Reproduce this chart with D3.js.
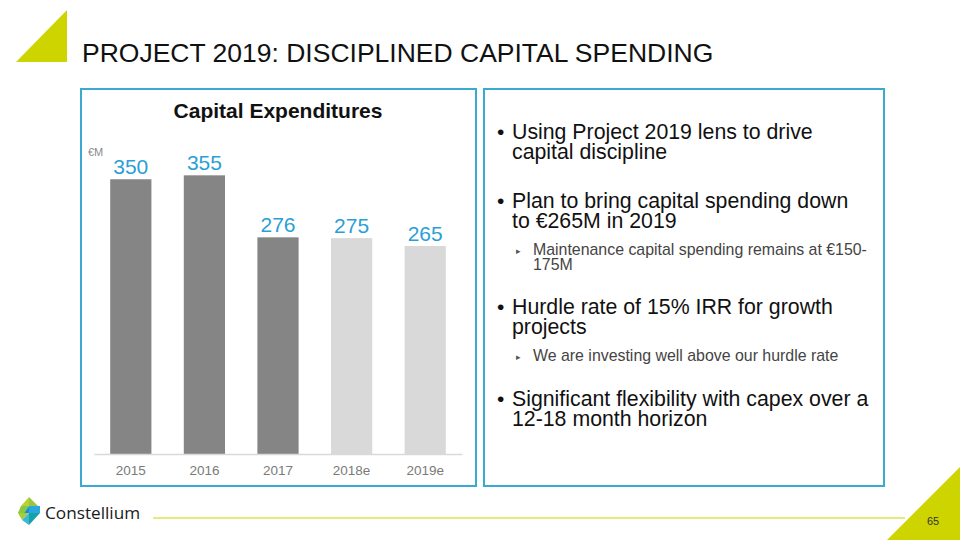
<!DOCTYPE html>
<html>
<head>
<meta charset="utf-8">
<script src="https://cdn.jsdelivr.net/npm/d3@7"></script>
<style>
  html, body { margin: 0; padding: 0; background: #fff; }
  svg { display: block; font-family: "Liberation Sans", Arial, sans-serif; }
</style>
</head>
<body>
<svg id="chart" width="960" height="540"></svg>
<script>
// ---- data ----
const categories = ["2015", "2016", "2017", "2018e", "2019e"];
const capexValues = [350, 355, 276, 275, 265];
const isEstimate = [false, false, false, true, true];
const pageTitle = "PROJECT 2019: DISCIPLINED CAPITAL SPENDING";
const chartTitle = "Capital Expenditures";
const unitLabel = "€M";
const bullets = [
  { lines: ["Using Project 2019 lens to drive", "capital discipline"], subs: [] },
  { lines: ["Plan to bring capital spending down", "to €265M in 2019"], subs: [["Maintenance capital spending remains at €150-", "175M"]] },
  { lines: ["Hurdle rate of 15% IRR for growth", "projects"], subs: [["We are investing well above our hurdle rate"]] },
  { lines: ["Significant flexibility with capex over a", "12-18 month horizon"], subs: [] }
];
const pageNumber = "65";

const svg = d3.select("#chart");
const lime = "#cdd400";
const boxBlue = "#3ca9d2";

// decorative triangles
svg.append("path").attr("d", "M16,62 L67,10 L67,62 Z").attr("fill", lime);
svg.append("path").attr("d", "M887,540 L960,467 L960,540 Z").attr("fill", lime);
svg.append("text").attr("x", 933).attr("y", 525).attr("text-anchor", "middle")
  .attr("font-size", 11).attr("fill", "#333").text(pageNumber);

// page title
svg.append("text").attr("x", 82).attr("y", 62).attr("font-size", 26.5).attr("fill", "#111")
  .text(pageTitle);

// boxes
svg.append("rect").attr("x", 81).attr("y", 89).attr("width", 395).attr("height", 397)
  .attr("fill", "none").attr("stroke", boxBlue).attr("stroke-width", 2);
svg.append("rect").attr("x", 484).attr("y", 89).attr("width", 400).attr("height", 397)
  .attr("fill", "none").attr("stroke", boxBlue).attr("stroke-width", 2);

// chart
const x = d3.scaleBand().domain(categories).range([94, 462]).paddingInner(0.44).paddingOuter(0.22);
const y = d3.scaleLinear().domain([0, 400]).range([454, 140]);

svg.append("text").attr("x", 278).attr("y", 118).attr("text-anchor", "middle")
  .attr("font-size", 21).attr("font-weight", "bold").attr("fill", "#111").text(chartTitle);
svg.append("text").attr("x", 88).attr("y", 156).attr("font-size", 11).attr("fill", "#8a8a8a").text(unitLabel);

const data = categories.map((c, i) => ({ c, v: capexValues[i], e: isEstimate[i] }));

svg.selectAll("rect.bar").data(data).enter().append("rect").attr("class", "bar")
  .attr("x", d => x(d.c)).attr("width", x.bandwidth())
  .attr("y", d => y(d.v)).attr("height", d => y(0) - y(d.v))
  .attr("fill", d => d.e ? "#d9d9d9" : "#858585");

svg.selectAll("text.val").data(data).enter().append("text").attr("class", "val")
  .attr("x", d => x(d.c) + x.bandwidth() / 2).attr("y", d => y(d.v) - 5)
  .attr("text-anchor", "middle").attr("font-size", 21).attr("fill", "#2a9fd6")
  .text(d => d.v);

const xAxis = svg.append("g").attr("transform", "translate(0,454)")
  .call(d3.axisBottom(x).tickSize(0).tickPadding(11));
xAxis.select(".domain").attr("stroke", "#d9d9d9").attr("stroke-width", 1.5);
xAxis.selectAll("text").attr("font-size", 13.5).attr("fill", "#7a7a7a")
  .attr("font-family", "'Liberation Sans', Arial, sans-serif");

// bullet text (one text element per paragraph, tight line spacing)
const tx = 512, bx = 497, sx = 533, sax = 516;
const mainLH = 20, subLH = 14.5;
let yy = 139;
const g = svg.append("g");
bullets.forEach((b, bi) => {
  g.append("text").attr("x", bx).attr("y", yy).attr("font-size", 21).attr("fill", "#111").text("•");
  const t = g.append("text").attr("font-size", 21.3).attr("fill", "#111");
  b.lines.forEach((ln, li) => {
    t.append("tspan").attr("x", tx).attr("y", yy + li * mainLH).text(ln);
  });
  yy += (b.lines.length - 1) * mainLH;
  b.subs.forEach(s => {
    yy += 27;
    g.append("text").attr("x", sax).attr("y", yy - 1).attr("font-size", 9).attr("fill", "#555").text("▸");
    const st = g.append("text").attr("font-size", 15.9).attr("fill", "#444");
    s.forEach((ln, li) => {
      st.append("tspan").attr("x", sx).attr("y", yy + li * subLH).text(ln);
    });
    yy += (s.length - 1) * subLH;
  });
  yy += b.subs.length ? 44.5 : 49;
});

// footer line
svg.append("line").attr("x1", 153).attr("x2", 905).attr("y1", 518).attr("y2", 518)
  .attr("stroke", lime).attr("stroke-width", 1);

// logo
const logo = svg.append("g").attr("transform", "translate(18,497)");
logo.append("path").attr("d", "M11,0 L20,9 L11,9 Z").attr("fill", "#9bc53d");
logo.append("path").attr("d", "M11,0 L11,9 L3,9 Z").attr("fill", "#b5d334");
logo.append("path").attr("d", "M3,9 L11,9 L6,16 L0,16 Z").attr("fill", "#8dc63f");
logo.append("path").attr("d", "M11,9 L22,9 L22,16 L11,16 Z").attr("fill", "#29a8e0");
logo.append("path").attr("d", "M11,9 L11,16 L6,16 Z").attr("fill", "#1a8fc9");
logo.append("path").attr("d", "M0,16 L11,16 L4,23 Z").attr("fill", "#a6ce39");
logo.append("path").attr("d", "M11,16 L22,16 L11,28 Z").attr("fill", "#15a3a8");
logo.append("path").attr("d", "M4,23 L11,16 L11,28 Z").attr("fill", "#3fb5d8");
svg.append("text").attr("x", 45).attr("y", 519).attr("font-size", 17.2)
  .attr("font-family", "'Open Sans', sans-serif").attr("fill", "#1a1a1a").text("Constellium");
</script>
</body>
</html>
